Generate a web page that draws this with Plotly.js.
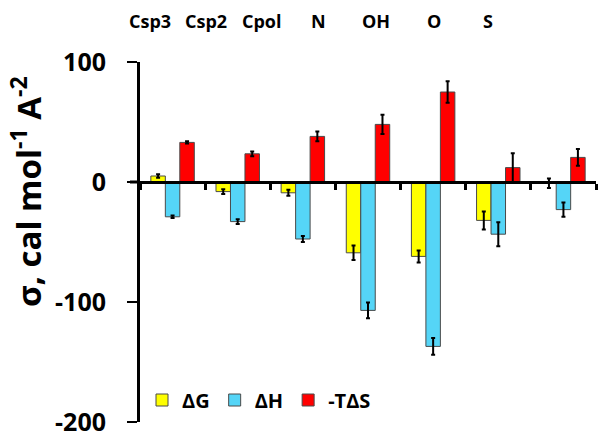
<!DOCTYPE html>
<html><head><meta charset="utf-8">
<script src="https://cdn.plot.ly/plotly-3.0.1.min.js"></script>
<style>html,body{margin:0;padding:0;background:#fff}</style>
</head><body><div id="chart" style="width:604px;height:440px"></div>
<script>
const categories = ['Csp3','Csp2','Cpol','N','OH','O','S'];
const topLabels = ['Csp3','Csp2','Cpol','N','OH','O','S'];
const dG = [5, -8, -9, -59, -62, -32, -1];
const dGErr = [1.5, 2, 2.5, 6, 5, 7.5, 4];
const dH = [-29, -33, -47.5, -107, -137, -43.5, -23];
const dHErr = [1, 2, 2.5, 6.5, 7, 10, 6];
const mTdS = [33, 23.5, 38, 48, 75, 12, 20.5];
const mTdSErr = [1, 2, 4, 8, 9, 12, 7];
const seriesNames = ['ΔG', 'ΔH', '-TΔS'];
const yTicks = [100, 0, -100, -200];

const FONT = 'Open Sans';
const L = 140, R = 596, T = 62, B = 422;
const px2x = p => (p - L) / (R - L);
const px2y = p => (B - p) / (B - T);

function bar(name, y, err, color) {
  return {
    type: 'bar', name: name, x: categories, y: y,
    marker: {color: color, line: {color: '#4a4a4a', width: 1}},
    error_y: {type: 'data', array: err, visible: true, color: '#000', thickness: 2, width: 2}
  };
}
const data = [
  bar(seriesNames[0], dG, dGErr, '#FFFF00'),
  bar(seriesNames[1], dH, dHErr, '#55D5F7'),
  bar(seriesNames[2], mTdS, mTdSErr, '#FF0000')
];

const labelCentersPx = [149.5, 205.5, 262, 318.5, 376, 433.5, 487.5];
const annotations = topLabels.map((t, i) => ({
  text: t, xref: 'paper', yref: 'paper',
  x: px2x(labelCentersPx[i]), y: px2y(21), showarrow: false,
  xanchor: 'center', yanchor: 'middle',
  font: {family: FONT, size: 18, color: '#000', weight: 'bold'}
}));
annotations.push({
  text: 'σ, cal mol<sup>-1</sup> A<sup>-2</sup>', xref: 'paper', yref: 'paper',
  x: px2x(26), y: px2y(192), textangle: -90, showarrow: false,
  xanchor: 'center', yanchor: 'middle',
  font: {family: FONT, size: 33, color: '#000', weight: 'bold'}
});

const layout = {
  width: 604, height: 440,
  margin: {l: L, r: 604 - R, t: T, b: 440 - B, pad: 0},
  paper_bgcolor: '#fff', plot_bgcolor: '#fff',
  barmode: 'group', bargap: 0.333, bargroupgap: 0,
  showlegend: true,
  legend: {orientation: 'h', x: px2x(142), xanchor: 'left', y: px2y(400), yanchor: 'middle',
    font: {family: FONT, size: 20, color: '#000', weight: 'bold'},
    bgcolor: 'rgba(0,0,0,0)', itemclick: false},
  xaxis: {type: 'category', anchor: 'free', position: 2/3, showticklabels: false,
    showline: true, linecolor: '#000', linewidth: 3, ticks: 'outside', tickson: 'boundaries',
    ticklen: 6, tickwidth: 3, tickcolor: '#000', showgrid: false, zeroline: false},
  yaxis: {range: [-200, 100], tickvals: yTicks, ticktext: yTicks.map(String),
    showline: true, linecolor: '#000', linewidth: 3, ticks: 'outside', ticklen: 10, tickwidth: 2,
    tickcolor: '#000', showgrid: false, zeroline: false, ticklabelstandoff: 16,
    tickfont: {family: FONT, size: 25, color: '#000', weight: 'bold'}},
  shapes: [{type: 'line', xref: 'paper', yref: 'y', x0: px2x(130), x1: 0, y0: 0, y1: 0,
    line: {color: '#000', width: 3}}],
  annotations: annotations
};
Plotly.newPlot('chart', data, layout, {displayModeBar: false, staticPlot: true});
</script></body></html>
